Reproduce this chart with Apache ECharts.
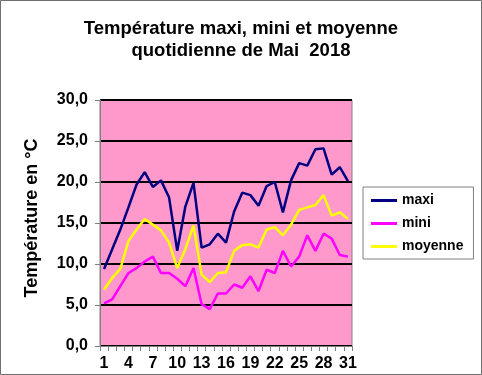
<!DOCTYPE html>
<html>
<head>
<meta charset="utf-8">
<script src="https://cdn.jsdelivr.net/npm/echarts@6/dist/echarts.min.js"></script>
<style>
html,body{margin:0;padding:0;background:#fff;}
#c{width:482px;height:375px;}
</style>
</head>
<body>
<div id="c"></div>
<script>
var days = [];
for (var d = 1; d <= 31; d++) days.push(String(d));
var maxi = [9.4, 11.8, 14.2, 16.9, 19.7, 21.2, 19.4, 20.2, 18.1, 11.6, 17.0, 19.9, 12.0, 12.4, 13.7, 12.6,
            16.4, 18.7, 18.4, 17.1, 19.5, 20.0, 16.3, 20.2, 22.3, 22.0, 24.0, 24.1, 20.9, 21.8, 20.1];
var mini = [5.2, 5.7, 7.3, 8.9, 9.5, 10.3, 10.9, 8.9, 8.9, 8.2, 7.3, 9.5, 5.1, 4.5, 6.4, 6.4,
            7.5, 7.1, 8.5, 6.7, 9.3, 8.9, 11.6, 9.7, 10.9, 13.5, 11.6, 13.7, 13.1, 11.1, 10.9];
var moyenne = [6.9, 8.3, 9.4, 12.8, 14.2, 15.5, 14.8, 14.1, 12.6, 9.5, 11.8, 14.7, 8.7, 7.8, 8.9, 9.0,
               11.6, 12.3, 12.4, 12.0, 14.2, 14.5, 13.5, 14.8, 16.6, 16.9, 17.2, 18.4, 15.9, 16.3, 15.5];
var yTicks = [0, 5, 10, 15, 20, 25, 30];

var font = '"Liberation Sans", Arial, sans-serif';
var chart = echarts.init(document.getElementById('c'), null, {renderer: 'canvas'});
chart.setOption({
  animation: false,
  backgroundColor: '#ffffff',
  title: {
    text: 'Température maxi, mini et moyenne\nquotidienne de Mai  2018',
    left: 236, textAlign: 'center', top: 13,
    textStyle: {fontFamily: font, fontSize: 18.5, fontWeight: 'bold', color: '#000', lineHeight: 22}
  },
  graphic: [{
    type: 'rect', shape: {x: 0.5, y: 0.5, width: 481, height: 374},
    style: {fill: 'none', stroke: '#707070', lineWidth: 1}, silent: true, z: 100
  }],
  legend: {
    orient: 'vertical', left: 363, top: 187,
    data: ['maxi', 'mini', 'moyenne'],
    icon: 'rect', itemWidth: 26, itemHeight: 3, itemGap: 8,
    padding: [6, 10, 5, 8],
    borderColor: '#808080', borderWidth: 1, backgroundColor: '#fff',
    textStyle: {fontFamily: font, fontSize: 14, fontWeight: 'bold', color: '#000', lineHeight: 15}
  },
  grid: {
    left: 100, right: 130, top: 100, bottom: 29,
    show: true, backgroundColor: '#FF99CC', borderColor: '#808080', borderWidth: 1
  },
  xAxis: {
    type: 'category', data: days, boundaryGap: true,
    axisLine: {lineStyle: {color: '#808080', width: 1}},
    axisTick: {show: true, interval: 0, length: 5, lineStyle: {color: '#808080'}},
    axisLabel: {interval: 2, margin: 10, fontFamily: font, fontSize: 16, fontWeight: 'bold', color: '#000'},
    splitLine: {show: false}
  },
  yAxis: {
    type: 'value', min: 0, max: 30, interval: 5,
    name: 'Température en °C', nameLocation: 'middle', nameGap: 59,
    nameTextStyle: {fontFamily: font, fontSize: 18, fontWeight: 'bold', color: '#000', padding: [0, 0, 0, 10]},
    axisLine: {show: true, lineStyle: {color: '#808080', width: 1}},
    axisTick: {show: true, length: 5, lineStyle: {color: '#808080'}},
    axisLabel: {
      margin: 12, fontFamily: font, fontSize: 16, fontWeight: 'bold', color: '#000',
      formatter: function (v) { return yTicks.indexOf(v) >= 0 ? v.toFixed(1).replace('.', ',') : ''; }
    },
    splitLine: {show: true, lineStyle: {color: '#000', width: 2}}
  },
  series: [
    {name: 'maxi', type: 'line', data: maxi, showSymbol: false, symbol: 'none',
     lineStyle: {color: '#000080', width: 2.5}, itemStyle: {color: '#000080'}},
    {name: 'mini', type: 'line', data: mini, showSymbol: false, symbol: 'none',
     lineStyle: {color: '#FF00FF', width: 2.5}, itemStyle: {color: '#FF00FF'}},
    {name: 'moyenne', type: 'line', data: moyenne, showSymbol: false, symbol: 'none',
     lineStyle: {color: '#FFFF00', width: 2.5}, itemStyle: {color: '#FFFF00'}}
  ]
});
</script>
</body>
</html>
